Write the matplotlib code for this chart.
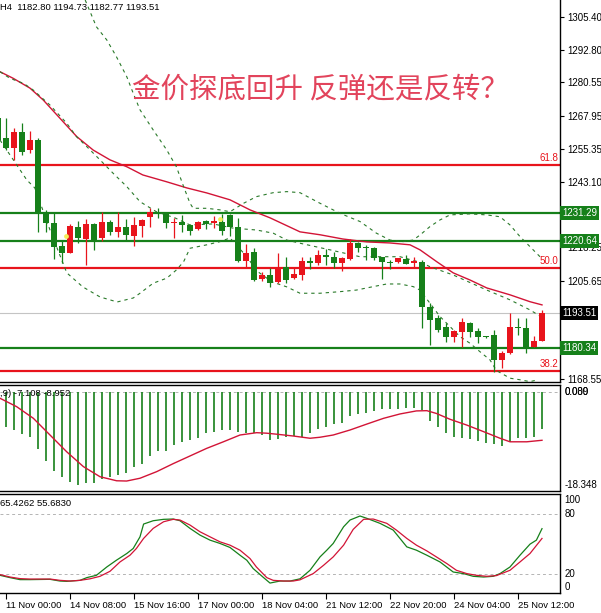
import numpy as np
import matplotlib
matplotlib.use('Agg')
import matplotlib.pyplot as plt
from matplotlib.transforms import blended_transform_factory

plt.rcParams['font.family'] = ['Liberation Sans', 'DejaVu Sans']

# ---------------- data ----------------
bar_index = list(range(-1, 68))
opens = [1267.0, 1259.5, 1255.7, 1262.0, 1255.0, 1258.8, 1231.7, 1227.6, 1218.8, 1216.2,
         1225.8, 1221.3, 1227.1, 1221.7, 1228.0, 1224.2, 1225.8, 1222.5, 1226.3, 1229.8,
         1231.7, 1230.9, 1227.6, 1228.0, 1226.6, 1225.1, 1228.2, 1227.6, 1228.0, 1230.3,
         1225.8, 1212.9, 1216.6, 1206.2, 1207.7, 1205.3, 1210.9, 1206.5, 1207.8, 1213.1,
         1212.2, 1215.2, 1214.7, 1212.2, 1213.7, 1219.8, 1218.5, 1218.1, 1214.5, 1212.6,
         1212.6, 1213.7, 1212.5, 1212.85, 1195.85, 1191.4, 1188.3, 1184.5, 1186.4, 1189.8,
         1186.6, 1184.5, 1185.1, 1175.5, 1178.2, 1188.3, 1187.7, 1180.7, 1182.80]
highs = [1268.5, 1267.0, 1263.2, 1265.1, 1262.3, 1259.5, 1232.4, 1231.7, 1221.0, 1227.1,
         1228.3, 1228.8, 1227.6, 1231.7, 1228.6, 1231.7, 1228.8, 1229.6, 1228.8, 1233.0,
         1233.0, 1231.7, 1229.2, 1230.5, 1227.1, 1228.3, 1228.6, 1229.9, 1230.9, 1230.9,
         1229.2, 1219.4, 1217.9, 1209.1, 1210.3, 1216.2, 1214.5, 1210.3, 1214.7, 1214.7,
         1217.2, 1217.5, 1216.6, 1214.5, 1221.3, 1220.4, 1219.1, 1218.5, 1214.6, 1213.5,
         1214.4, 1215.4, 1214.7, 1213.5, 1197.1, 1192.7, 1189.8, 1187.0, 1191.4, 1190.2,
         1187.9, 1184.7, 1187.0, 1178.9, 1193.3, 1191.4, 1191.4, 1184.8, 1194.73]
lows = [1257.5, 1255.0, 1251.3, 1253.2, 1253.8, 1224.2, 1224.2, 1213.7, 1212.2, 1216.0,
        1219.8, 1211.6, 1217.3, 1220.8, 1222.9, 1222.0, 1221.0, 1218.8, 1222.0, 1226.1,
        1229.2, 1225.4, 1221.7, 1224.2, 1222.9, 1224.8, 1225.1, 1225.4, 1222.9, 1222.5,
        1212.6, 1210.3, 1205.6, 1205.7, 1203.1, 1204.7, 1204.9, 1206.2, 1205.9, 1210.0,
        1211.6, 1211.6, 1210.3, 1209.4, 1213.5, 1216.6, 1213.5, 1213.5, 1206.2, 1210.0,
        1212.2, 1212.0, 1210.7, 1187.7, 1181.4, 1186.4, 1182.6, 1182.6, 1180.7, 1184.2,
        1182.0, 1184.1, 1171.3, 1172.5, 1178.0, 1185.1, 1178.5, 1180.4, 1182.77]
closes = [1258.8, 1255.7, 1262.0, 1254.4, 1258.8, 1231.7, 1227.6, 1218.5, 1216.2, 1226.3,
          1221.7, 1227.1, 1221.0, 1228.0, 1224.2, 1225.8, 1222.8, 1226.7, 1228.6, 1231.7,
          1230.9, 1227.3, 1228.0, 1226.7, 1224.6, 1228.0, 1227.1, 1228.1, 1224.6, 1225.8,
          1212.9, 1216.0, 1205.9, 1207.8, 1204.9, 1210.9, 1205.9, 1208.2, 1212.9, 1212.2,
          1215.4, 1214.5, 1212.2, 1214.1, 1219.8, 1217.9, 1218.1, 1214.1, 1212.6, 1212.4,
          1214.1, 1212.0, 1212.7, 1195.85, 1190.8, 1187.0, 1184.5, 1186.6, 1190.2, 1186.4,
          1184.2, 1184.3, 1175.5, 1178.2, 1188.3, 1187.7, 1180.7, 1183.0, 1193.51]

ma_k = [-0.75, 0.91, 3, 4.66, 6.75, 8.84, 10.9, 13, 15.1, 17.1, 20.1, 22.6, 25.1, 28,
        30.5, 33, 36.75, 39.25, 42.1, 45.1, 48, 50.5, 51.75, 53.9, 55.9, 58, 60.1, 63, 65.5, 67]
ma_v = [1284.6, 1282.1, 1278.4, 1273.9, 1267.0, 1260.1, 1255.0, 1251.3, 1248.7, 1245.6,
        1243.0, 1240.7, 1238.8, 1236.2, 1232.4, 1229.4, 1224.1, 1223.0, 1221.4, 1220.3,
        1219.9, 1219.2, 1217.3, 1212.7, 1208.6, 1205.9, 1202.9, 1200.3, 1197.7, 1196.5]

bb_up_k = [9.9, 11.3, 12.6, 13.8, 15.1, 15.9, 16.75, 18.4, 20.1, 21.3, 22.2, 23.0, 23.4,
           25.1, 26.75, 28.0, 29.7, 31.3, 33.4, 35.1, 36.75, 39.25, 41.75, 44.25, 46.3,
           48.0, 49.6, 50.9, 51.75, 53.0, 54.25, 55.5, 58.0, 60.1, 61.75, 63.0, 64.25,
           65.5, 66.75]
bb_up_v = [1311.7, 1301.6, 1296.6, 1290.3, 1282.7, 1276.5, 1270.2, 1262.6, 1255.0, 1248.7,
           1241.2, 1234.9, 1233.0, 1233.0, 1232.4, 1231.7, 1234.9, 1237.4, 1238.9, 1239.3,
           1238.9, 1234.9, 1231.1, 1228.0, 1223.6, 1221.0, 1220.4, 1221.0, 1222.9, 1226.1,
           1228.6, 1230.5, 1230.9, 1230.5, 1229.8, 1226.7, 1222.3, 1218.5, 1214.7]

bb_mid_k = [-0.75, 0.5, 2.2, 3.4, 5.5, 7.6, 8.8, 10.1, 11.75, 13.4, 15.1, 16.75, 18.8,
            21.1, 23.0, 25.9, 28.4, 31.3, 33.4, 35.1, 36.75, 40.5, 44.25, 49.25, 52.1,
            53.0, 55.9, 60.1, 63.0, 65.5, 67.0]
bb_mid_v = [1284.6, 1282.1, 1280.2, 1277.7, 1272.0, 1265.1, 1260.1, 1256.3, 1251.3,
            1246.2, 1241.2, 1235.5, 1231.7, 1229.4, 1226.7, 1227.1, 1225.5, 1224.8,
            1223.6, 1221.0, 1219.8, 1217.3, 1214.7, 1214.7, 1212.3, 1210.9, 1207.8,
            1202.1, 1198.4, 1194.6, 1191.8]

bb_low_k = [-0.75, 0.09, 1.34, 2.6, 3.6, 5.5, 7.6, 9.6, 11.75, 13.9, 15.9, 16.75, 18.4,
            20.1, 21.3, 22.2, 23.0, 25.1, 26.75, 28.0, 29.9, 31.5, 33.25, 35.1, 36.75,
            39.25, 41.75, 43.8, 45.9, 47.6, 49.25, 50.9, 51.75, 53.0, 54.25, 55.5, 56.75,
            58.0, 59.25, 60.5, 61.3, 63.0, 64.25, 65.5, 66.5]
bb_low_v = [1258.8, 1255.0, 1249.4, 1243.7, 1240.7, 1224.8, 1208.6, 1203.3, 1199.5,
            1197.6, 1199.1, 1200.9, 1204.7, 1206.6, 1209.7, 1212.8, 1217.9, 1219.2,
            1220.4, 1221.8, 1215.4, 1209.0, 1205.2, 1203.3, 1200.9, 1200.9, 1201.5,
            1202.1, 1203.4, 1204.4, 1204.4, 1203.4, 1202.1, 1197.1, 1192.1, 1188.3,
            1184.5, 1182.0, 1178.8, 1175.7, 1171.7, 1168.8, 1168.2, 1167.5, 1168.2]

green_levels = [1231.29, 1220.64, 1180.34]
fib_levels = [1249.5, 1210.6, 1171.7]
fib_labels = ['61.8', '50.0', '38.2']
bid_price = 1193.51
marker_k = [7.5, 26.7]
marker_v = [1222.6, 1228.9]

price_ticks = [1305.40, 1292.80, 1280.55, 1267.95, 1255.35, 1243.10, 1218.25, 1205.65, 1168.55]

macd_hist = [-6.9, -7.6, -8.4, -8.9, -11.4, -13.6, -15.7, -16.8, -17.8, -18.35,
             -18.1, -18.1, -17.3, -16.8, -16.5, -16.0, -14.9, -14.2, -12.7, -11.8,
             -11.7, -10.5, -9.9, -9.5, -9.2, -8.2, -7.9, -7.6, -7.6, -7.9,
             -8.1, -8.2, -8.6, -9.5, -9.4, -8.9, -8.8, -8.9, -8.2, -7.4,
             -6.9, -6.4, -6.1, -4.9, -4.4, -4.3, -3.8, -3.5, -3.4, -3.4,
             -3.2, -3.2, -3.6, -5.7, -7.0, -8.2, -8.9, -9.2, -9.4, -9.7,
             -10.1, -10.4, -10.7, -9.9, -9.2, -9.2, -8.9, -7.3]
macd_sig_k = [-0.75, 1.33, 3.42, 5.5, 7.58, 9.67, 11.75, 13.83, 15.08, 16.75, 18.83,
              20.92, 23.0, 25.08, 27.17, 29.25, 31.33, 32.58, 33.83, 35.92, 38.0, 39.25,
              40.9, 43.0, 45.1, 47.2, 49.25, 51.3, 52.6, 53.8, 55.5, 57.6, 59.7, 61.75,
              63.0, 65.1, 67.0]
macd_sig_v = [-1.3, -2.96, -5.26, -8.56, -11.86, -14.8, -16.8, -17.6, -17.65, -17.1,
              -15.8, -14.2, -12.7, -11.2, -9.9, -8.56, -8.1, -8.2, -8.4, -8.76, -9.2,
              -9.0, -8.56, -7.57, -6.4, -5.26, -4.4, -3.8, -3.75, -4.3, -5.45, -6.6,
              -7.9, -9.2, -9.9, -9.9, -9.6]

st_main_k = [-0.75, 0.5, 1.75, 3, 5.5, 6.75, 7.6, 9.25, 10.1, 11.3, 12.6, 13.8, 15.1,
             15.9, 16.75, 17.2, 18.4, 19.7, 20.9, 21.75, 23, 24.25, 25.5, 26.75, 28,
             29.25, 30.1, 30.9, 32.2, 33, 34.25, 35.5, 36.75, 38, 39.25, 40.1, 40.9,
             42.2, 43, 44.25, 45.1, 46.75, 48.4, 50.1, 51.3, 52.6, 54.25, 55.9, 57.2,
             58.4, 59.7, 60.9, 61.75, 63, 64.25, 65.5, 66.3, 67]
st_main_v = [19, 16.7, 14.7, 14.7, 15, 13.3, 13, 14, 16.7, 19, 27.3, 34, 40.7, 45.7,
             57.3, 70, 73.3, 74.7, 75, 73.3, 65.7, 59, 54, 50.7, 46.7, 39, 34, 25.7,
             16.7, 11.3, 13.3, 13.3, 15.5, 24, 37.3, 44, 50.7, 67.3, 74, 78, 75.7, 70.7,
             64, 47.3, 44, 39, 32.3, 22.3, 20.7, 18, 17.3, 18, 20.7, 27.3, 39, 50, 54,
             65.43]
st_sig_k = [-0.75, 0.5, 1.75, 3, 5.5, 6.75, 8, 9.25, 10.5, 11.75, 13, 14.25, 15.5, 16.3,
            17.2, 18.4, 19.7, 20.9, 21.75, 23, 24.25, 25.5, 26.75, 28, 29.25, 30.5,
            31.3, 32.6, 33.4, 34.7, 35.9, 36.75, 38.4, 39.7, 40.9, 42.2, 43.4, 44.7,
            45.9, 47.6, 48.8, 50.1, 51.3, 52.6, 53.8, 55.1, 56.3, 57.6, 58.8, 60.1,
            61.3, 63, 64.25, 65.5, 67]
st_sig_v = [19.7, 17.3, 15.7, 15.3, 15.3, 14, 13.3, 14, 15.5, 18, 23, 32.3, 39, 45.7,
            55.7, 65.7, 72.3, 74.7, 74, 69, 62.3, 57.3, 52.3, 49, 44, 35.7, 27.3, 16.7,
            14, 13.3, 13.3, 14.5, 20.7, 29, 37.3, 49, 64.7, 74.7, 75, 70.7, 64, 55.7,
            49, 43.3, 37.3, 30.7, 24, 20.7, 19, 18, 18.7, 24, 32.3, 40.7, 55.68]

xtick_pos = [0, 8, 16, 24, 32, 40, 48, 56, 64]
xtick_labels = ['11 Nov 00:00', '14 Nov 08:00', '15 Nov 16:00', '17 Nov 00:00',
                '18 Nov 04:00', '21 Nov 12:00', '22 Nov 20:00', '24 Nov 04:00',
                '25 Nov 12:00']

title_text = '金价探底回升 反弹还是反转？'
info_main = 'H4  1182.80 1194.73 1182.77 1193.51'
info_macd = ',9) -7.108 -8.952'
info_stoch = '65.4262 55.6830'

# ---------------- style ----------------
RED = '#e8141c'
GREEN = '#16801a'
LINE_RED = '#d21436'
BB_GREEN = '#2a7a2a'
TITLE_C = '#e2445c'
FS = 7

W, H = 601, 613
fig = plt.figure(figsize=(W / 100, H / 100), dpi=100)
fig.patch.set_facecolor('white')


def rect(x0, y0, x1, y1):
    return [x0 / W, 1 - y1 / H, (x1 - x0) / W, (y1 - y0) / H]


ax = fig.add_axes(rect(0, 0, 560, 382))
axm = fig.add_axes(rect(0, 385, 560, 491))
axs = fig.add_axes(rect(0, 494, 560, 593))
XL = (-0.75, 69.25)

for a in (ax, axm, axs):
    a.set_xlim(*XL)
    a.set_facecolor('white')
    a.spines['left'].set_visible(False)
    for s in ('right', 'bottom', 'top'):
        a.spines[s].set_color('black')
        a.spines[s].set_linewidth(1.0)
ax.spines['top'].set_visible(False)

# ---------------- main price panel ----------------
ax.set_ylim(1167.36, 1311.71)
k = np.array(bar_index, dtype=float)
o = np.array(opens); h = np.array(highs); l = np.array(lows); c = np.array(closes)
cols = np.where(c >= o, RED, GREEN)

for lv in fib_levels:
    ax.axhline(lv, color=RED, lw=1.6, zorder=2)
for lv in green_levels:
    ax.axhline(lv, color=GREEN, lw=1.6, zorder=2)
ax.axhline(bid_price, color='#c4c4c4', lw=0.8, zorder=1.5)

ax.plot(ma_k, ma_v, color=LINE_RED, lw=1.0, zorder=3)
for kk, vv in ((bb_up_k, bb_up_v), (bb_mid_k, bb_mid_v), (bb_low_k, bb_low_v)):
    ax.plot(kk, vv, color=BB_GREEN, lw=0.8, ls=(0, (3, 3.5)), zorder=3)

ax.vlines(k, l, h, colors=cols, lw=0.9, zorder=4)
body_lo = np.minimum(o, c)
body_h = np.maximum(np.abs(c - o), 0.4)
ax.bar(k, body_h, bottom=body_lo, width=0.68, color=cols, lw=0, zorder=5)
ax.scatter(marker_k, marker_v, s=12, color='#f4ee5a', zorder=6, lw=0)

ax.set_xticks([])
ax.yaxis.tick_right()
ax.set_yticks(price_ticks)
ax.set_yticklabels([f'{t:.2f}' for t in price_ticks])
ax.tick_params(axis='y', length=3, width=0.8, pad=2, labelsize=FS, colors='black')

ytr = blended_transform_factory(ax.transAxes, ax.transData)
for lv, lab in zip(fib_levels, fib_labels):
    ax.text(558 / 560, lv + 0.5, lab, transform=ytr, ha='right', va='bottom',
            color=RED, fontsize=FS, zorder=7)
for lv in green_levels:
    ax.text(1.004, lv, f'{lv:.2f}', transform=ytr, ha='left', va='center',
            color='white', fontsize=FS, clip_on=False, zorder=8,
            bbox=dict(boxstyle='square,pad=0.2', fc=GREEN, ec='none'))
ax.text(1.004, bid_price, f'{bid_price:.2f}', transform=ytr, ha='left', va='center',
        color='white', fontsize=FS, clip_on=False, zorder=8,
        bbox=dict(boxstyle='square,pad=0.2', fc='black', ec='none'))

ax.text(0.0, 1 - 7 / 382, info_main, transform=ax.transAxes, ha='left', va='center',
        fontsize=6.8, color='black')
ax.text(0.572, 0.765, title_text, transform=ax.transAxes, ha='center', va='center',
        fontsize=20.5, fontweight='light', color=TITLE_C,
        family=['Noto Sans CJK SC', 'DejaVu Sans'])

# ---------------- MACD panel ----------------
axm.set_ylim(-19.62, 1.32)
hk = np.arange(0, len(macd_hist))
axm.vlines(hk, 0, macd_hist, colors=GREEN, lw=1.2, zorder=3)
axm.axhline(0, color='#b4b4b4', lw=0.7, ls=(0, (3, 3)), zorder=2)
axm.plot(macd_sig_k, macd_sig_v, color=LINE_RED, lw=1.0, zorder=4)
axm.set_xticks([]); axm.set_yticks([])
mtr = blended_transform_factory(axm.transAxes, axm.transData)
axm.text(1.008, 0, '0.089', transform=mtr, ha='left', va='center', fontsize=FS, clip_on=False)
axm.text(1.008, 0, '0.000', transform=mtr, ha='left', va='center', fontsize=FS, clip_on=False)
axm.text(1.008, -18.348, '-18.348', transform=mtr, ha='left', va='center', fontsize=FS,
         clip_on=False)
axm.text(0.0, 1 - 8 / 106, info_macd, transform=axm.transAxes, ha='left', va='center',
         fontsize=6.8)

# ---------------- Stochastic panel ----------------
axs.set_ylim(1.4, 99.9)
axs.axhline(80, color='#b4b4b4', lw=0.7, ls=(0, (3, 3)), zorder=2)
axs.axhline(20, color='#b4b4b4', lw=0.7, ls=(0, (3, 3)), zorder=2)
axs.plot(st_main_k, st_main_v, color=GREEN, lw=0.9, zorder=3)
axs.plot(st_sig_k, st_sig_v, color=LINE_RED, lw=0.9, zorder=3)
axs.set_yticks([])
str_ = blended_transform_factory(axs.transAxes, axs.transData)
axs.text(1.008, 99.0, '100', transform=str_, ha='left', va='top', fontsize=FS, clip_on=False)
axs.text(1.008, 80, '80', transform=str_, ha='left', va='center', fontsize=FS, clip_on=False)
axs.text(1.008, 20, '20', transform=str_, ha='left', va='center', fontsize=FS, clip_on=False)
axs.text(1.008, 2.0, '0', transform=str_, ha='left', va='bottom', fontsize=FS, clip_on=False)
axs.text(0.0, 1 - 9 / 99, info_stoch, transform=axs.transAxes, ha='left', va='center',
         fontsize=6.8)
axs.set_xticks(xtick_pos)
axs.set_xticklabels(xtick_labels)
for t in axs.get_xticklabels():
    t.set_ha('left')
axs.tick_params(axis='x', length=4, width=0.8, pad=1.5, labelsize=6.8, direction='out')

fig.savefig('out.png', dpi=100, facecolor='white')
